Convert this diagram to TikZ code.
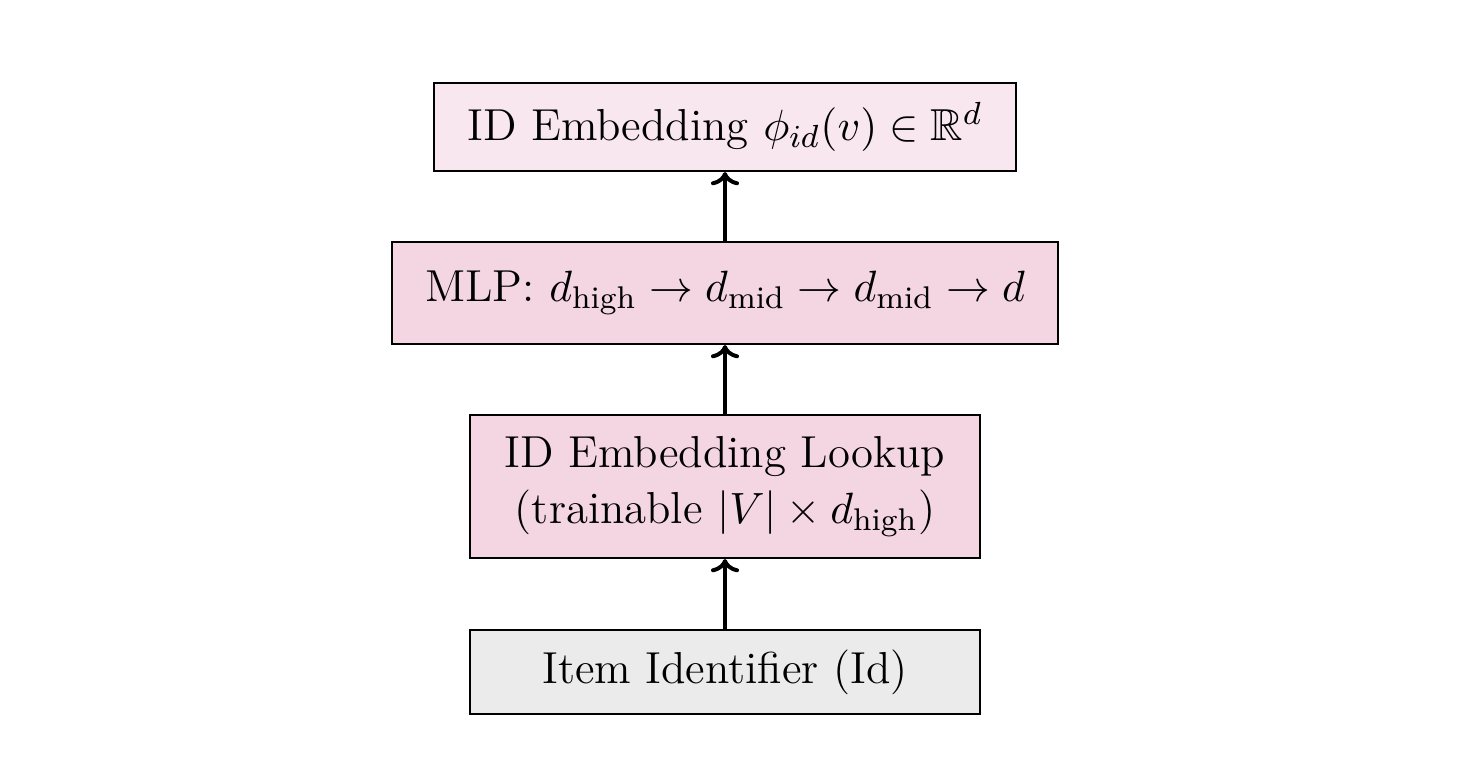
\documentclass[tikz,border=0pt]{standalone}
\usepackage{amsmath,amssymb}
\usetikzlibrary{arrows.meta}
\definecolor{pinkA}{HTML}{F8E7EE}
\definecolor{pinkB}{HTML}{F4D6E2}
\definecolor{greyA}{HTML}{EBEBEB}
\begin{document}
\begin{tikzpicture}[x=0.25pt,y=-0.25pt,
  box/.style={draw=black, line width=0.55pt, inner sep=0pt, align=center, font=\fontsize{11.2}{14}\selectfont},
  flow/.style={line width=1pt, -{To[length=3.3pt,width=7pt]}}]
\useasboundingbox (0,0) rectangle (1458,768);
\node[box, fill=pinkA, minimum width=145.5pt, minimum height=22pt] (out) at (725,127) {ID Embedding $\phi_{id}(v)\in\mathbb{R}^{d}$};
\node[box, fill=pinkB, minimum width=166.5pt, minimum height=25.5pt] (mlp) at (725,293) {MLP: $d_{\text{high}}\rightarrow d_{\text{mid}}\rightarrow d_{\text{mid}}\rightarrow d$};
\node[box, fill=pinkB, minimum width=127.5pt, minimum height=35.75pt] (look) at (725,486.5) {ID Embedding Lookup\\(trainable $|V|\times d_{\text{high}}$)};
\node[box, fill=greyA, minimum width=127.5pt, minimum height=21pt] (item) at (725,672) {Item Identifier (Id)};
\draw[flow] (item) -- (look);
\draw[flow] (look) -- (mlp);
\draw[flow] (mlp) -- (out);
\end{tikzpicture}
\end{document}
